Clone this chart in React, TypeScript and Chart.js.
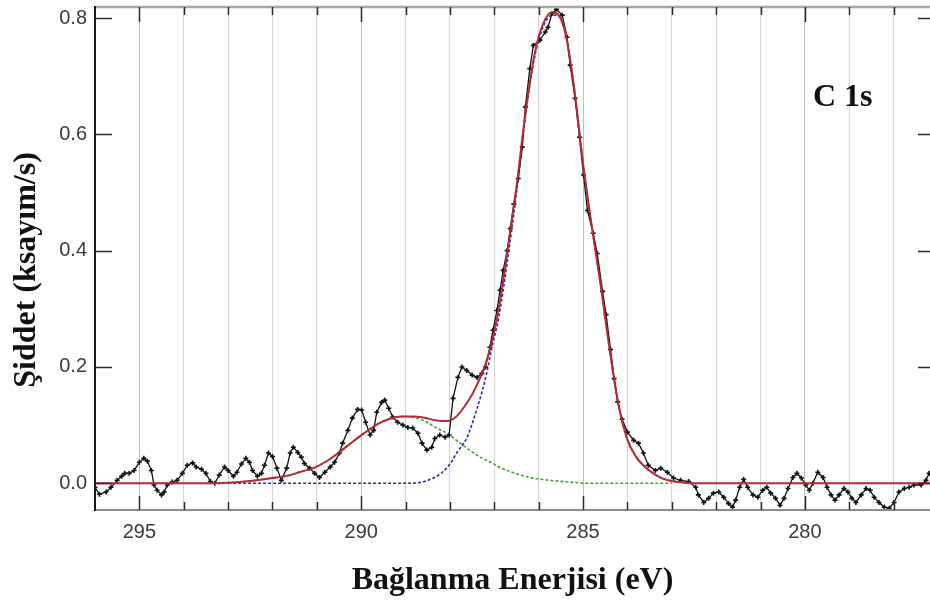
import React, { useEffect, useRef } from "react";
import { Chart, registerables } from "chart.js";

Chart.register(...registerables);

// ---- measured spectrum (binding energy eV, intensity ksayım/s) ----
const dataEnergy = [
  296.0, 295.9, 295.75, 295.64, 295.5, 295.4, 295.33, 295.23, 295.12, 295.0,
  294.9, 294.82, 294.73, 294.67, 294.6, 294.5, 294.44, 294.37, 294.26, 294.15,
  294.03, 293.92, 293.8, 293.72, 293.6, 293.5, 293.4, 293.3, 293.2, 293.08,
  293.0, 292.88, 292.8, 292.7, 292.6, 292.52, 292.45, 292.34, 292.25, 292.18,
  292.09, 292.0, 291.9, 291.8, 291.68, 291.6, 291.53, 291.43, 291.35, 291.28,
  291.16, 291.05, 290.94, 290.82, 290.7, 290.6, 290.49, 290.42, 290.3, 290.2,
  290.08, 289.99, 289.9, 289.8, 289.72, 289.65, 289.54, 289.47, 289.38, 289.29,
  289.18, 289.06, 288.95, 288.84, 288.72, 288.63, 288.52, 288.41, 288.34, 288.23,
  288.11, 288.02, 287.93, 287.82, 287.73, 287.62, 287.5, 287.39, 287.28, 287.2,
  287.1, 287.03, 286.94, 286.87, 286.8, 286.71, 286.64, 286.56, 286.46, 286.37,
  286.3, 286.2, 286.12, 285.97, 285.85, 285.79, 285.7, 285.6, 285.47, 285.36,
  285.29, 285.18, 285.08, 284.99, 284.9, 284.77, 284.68, 284.56, 284.48, 284.38,
  284.3, 284.22, 284.12, 284.0, 283.86, 283.75, 283.64, 283.53, 283.37, 283.25,
  283.1, 282.96, 282.8, 282.62, 282.46, 282.4, 282.28, 282.17, 282.06, 281.94,
  281.83, 281.72, 281.63, 281.56, 281.47, 281.38, 281.29, 281.17, 281.06, 280.95,
  280.86, 280.77, 280.66, 280.56, 280.47, 280.38, 280.27, 280.18, 280.08, 279.98,
  279.9, 279.82, 279.71, 279.59, 279.5, 279.41, 279.32, 279.23, 279.12, 279.03,
  278.94, 278.85, 278.73, 278.62, 278.53, 278.44, 278.33, 278.21, 278.1, 277.99,
  277.88, 277.76, 277.65, 277.54, 277.38, 277.27, 277.2,
];
const dataIntensity = [
  -0.007, -0.019, -0.015, -0.007, 0.005, 0.012, 0.017, 0.017, 0.022, 0.036,
  0.043, 0.038, 0.022, -0.003, -0.012, -0.02, -0.015, -0.003, 0.002, 0.005,
  0.017, 0.031, 0.035, 0.028, 0.024, 0.017, 0.003, 0.0, 0.014, 0.028,
  0.022, 0.012, 0.019, 0.033, 0.043, 0.036, 0.022, 0.012, 0.017, 0.031,
  0.052, 0.046, 0.026, 0.005, 0.026, 0.052, 0.062, 0.053, 0.045, 0.034,
  0.026, 0.017, 0.01, 0.019, 0.028, 0.036, 0.052, 0.069, 0.091, 0.112,
  0.127, 0.126, 0.105, 0.083, 0.091, 0.122, 0.139, 0.143, 0.129, 0.114,
  0.105, 0.1, 0.096, 0.095, 0.086, 0.069, 0.057, 0.062, 0.077, 0.083,
  0.079, 0.083, 0.146, 0.182, 0.2, 0.194, 0.186, 0.182, 0.189, 0.2,
  0.234, 0.263, 0.297, 0.332, 0.366, 0.4, 0.438, 0.48, 0.524, 0.578,
  0.647, 0.713, 0.753, 0.762, 0.776, 0.784, 0.808, 0.815, 0.805, 0.767,
  0.719, 0.662, 0.595, 0.53, 0.469, 0.43, 0.395, 0.33, 0.29, 0.23,
  0.18, 0.14, 0.11, 0.088, 0.074, 0.069, 0.052, 0.031, 0.022, 0.026,
  0.019, 0.009, 0.005, 0.003, -0.007, -0.02, -0.033, -0.026, -0.017, -0.015,
  -0.024, -0.035, -0.041, -0.029, -0.007, 0.007, -0.007, -0.02, -0.024, -0.012,
  -0.007, -0.017, -0.026, -0.038, -0.026, -0.009, 0.01, 0.017, 0.009, -0.003,
  -0.012, 0.0, 0.019, 0.01, -0.007, -0.02, -0.029, -0.02, -0.009, -0.015,
  -0.026, -0.033, -0.02, -0.009, -0.012, -0.024, -0.033, -0.041, -0.043, -0.033,
  -0.015, -0.009, -0.007, -0.003, -0.003, 0.005, 0.017,
];

// ---- fitted envelope (red) ----
const sumEnergy = [
  296.0, 293.5, 293.0, 292.5, 292.0, 291.6, 291.4, 291.05, 290.8, 290.5,
  290.2, 289.9, 289.6, 289.35, 289.1, 288.8, 288.6, 288.3, 288.1, 288.0,
  287.85, 287.7, 287.55, 287.43, 287.25, 287.1, 286.9, 286.7, 286.5, 286.3,
  286.1, 285.9, 285.7, 285.55, 285.4, 285.2, 285.0, 284.8, 284.6, 284.4,
  284.2, 284.0, 283.8, 283.6, 283.4, 283.2, 283.0, 282.7, 282.4, 277.18,
];
const sumIntensity = [
  0.0, 0.0, 0.001, 0.004, 0.009, 0.014, 0.019, 0.027, 0.037, 0.053,
  0.071, 0.088, 0.103, 0.111, 0.115, 0.115, 0.113, 0.108, 0.107, 0.108,
  0.115, 0.129, 0.146, 0.163, 0.194, 0.229, 0.3, 0.4, 0.51, 0.635,
  0.735, 0.79, 0.81, 0.805, 0.775, 0.68, 0.55, 0.44, 0.34, 0.23,
  0.135, 0.075, 0.045, 0.028, 0.016, 0.008, 0.004, 0.001, 0.0, 0.0,
];

// ---- main C 1s component (blue dashed) ----
const mainEnergy = [
  293.0, 289.0, 288.7, 288.4, 288.2, 288.0, 287.85, 287.62, 287.4, 287.2,
  287.05, 286.9, 286.7, 286.5, 286.3, 286.1, 285.9, 285.7, 285.55, 285.4,
  285.2, 285.0, 284.8, 284.6, 284.4, 284.2, 284.0, 283.8, 283.6, 283.4,
  283.2, 283.0, 282.7, 282.5,
];
const mainIntensity = [
  0.0, 0.0, 0.001, 0.008, 0.017, 0.033, 0.052, 0.078, 0.126, 0.18,
  0.235, 0.285, 0.385, 0.5, 0.63, 0.73, 0.785, 0.805, 0.803, 0.773,
  0.678, 0.55, 0.44, 0.34, 0.23, 0.135, 0.075, 0.045, 0.028, 0.016,
  0.008, 0.004, 0.001, 0.0,
];

// ---- second component (green dashed) ----
const secEnergy = [
  293.0, 292.5, 292.0, 291.6, 291.4, 291.05, 290.8, 290.5, 290.2, 289.9,
  289.6, 289.35, 289.1, 288.8, 288.6, 288.3, 288.07, 287.7, 287.32, 287.1,
  286.87, 286.64, 286.2, 285.74, 285.3, 284.9, 283.0,
];
const secIntensity = [
  0.0, 0.004, 0.009, 0.014, 0.019, 0.027, 0.037, 0.053, 0.071, 0.088,
  0.103, 0.111, 0.115, 0.113, 0.108, 0.095, 0.086, 0.065, 0.045, 0.037,
  0.027, 0.02, 0.01, 0.005, 0.002, 0.0, 0.0,
];

// ---- axes ----
const xMin = 277.18;
const xMax = 296.0;
const yMin = -0.046;
const yMax = 0.819;
const xTickValues = [278, 279, 280, 281, 282, 283, 284, 285, 286, 287, 288, 289, 290, 291, 292, 293, 294, 295];
const xLabelValues = [280, 285, 290, 295];
const yTickValues = [0.0, 0.2, 0.4, 0.6, 0.8];

const xTitle = "Bağlanma Enerjisi (eV)";
const yTitle = "Şiddet (ksayım/s)";
const peakLabel = "C 1s";

const toPts = (xs: number[], ys: number[]) => xs.map((x, i) => ({ x, y: ys[i] }));

const framePlugin = {
  id: "frame",
  afterDraw(chart: any) {
    const { ctx, chartArea, scales } = chart;
    const { left, right, top, bottom } = chartArea;
    const x = scales.x;
    const y = scales.y;
    const line = (x1: number, y1: number, x2: number, y2: number) => {
      ctx.beginPath();
      ctx.moveTo(x1, y1);
      ctx.lineTo(x2, y2);
      ctx.stroke();
    };
    ctx.save();
    ctx.lineCap = "butt";
    ctx.strokeStyle = "#a8a8a8";
    ctx.lineWidth = 2.5;
    line(left, top, right, top);
    ctx.strokeStyle = "#8c8c8c";
    ctx.lineWidth = 2;
    line(left, bottom, right, bottom);
    ctx.strokeStyle = "#1a1a1a";
    ctx.lineWidth = 2;
    line(left, top - 1, left, bottom + 1);

    ctx.strokeStyle = "#2a2a2a";
    ctx.lineWidth = 1.5;
    for (const v of xTickValues) {
      const px = Math.round(x.getPixelForValue(v)) + 0.5;
      const major = v % 5 === 0;
      line(px, bottom, px, bottom - (major ? 14 : 8));
      line(px, top, px, top + (major ? 15 : 8));
    }
    for (const v of yTickValues) {
      const py = Math.round(y.getPixelForValue(v)) + 0.5;
      line(left, py, left + 17, py);
      line(right - 12, py, right, py);
    }

    ctx.fillStyle = "#111";
    ctx.font = 'bold 32px "Liberation Serif", "Times New Roman", serif';
    ctx.textAlign = "left";
    ctx.textBaseline = "alphabetic";
    ctx.fillText(peakLabel, 813, 106);

    ctx.translate(27, 270);
    ctx.rotate(-Math.PI / 2);
    ctx.textAlign = "center";
    ctx.textBaseline = "middle";
    ctx.font = 'bold 32px "Liberation Serif", "Times New Roman", serif';
    ctx.fillText(yTitle, 0, 0);
    ctx.restore();
  },
};

export default function App() {
  const canvasRef = useRef<HTMLCanvasElement | null>(null);

  useEffect(() => {
    const canvas = canvasRef.current;
    if (!canvas) return;
    const chart = new Chart(canvas, {
      type: "line",
      data: {
        datasets: [
          {
            label: "Toplam",
            data: toPts(sumEnergy, sumIntensity),
            borderColor: "#b52a33",
            borderWidth: 2,
            pointRadius: 0,
            cubicInterpolationMode: "monotone",
            fill: false,
            order: 0,
          },
          {
            label: "Veri",
            data: toPts(dataEnergy, dataIntensity),
            borderColor: "#111",
            borderWidth: 1.3,
            pointRadius: 2.5,
            pointStyle: "cross",
            pointBorderColor: "#111",
            pointBorderWidth: 1.6,
            tension: 0,
            fill: false,
            order: 1,
          },
          {
            label: "Bileşen 2",
            data: toPts(secEnergy, secIntensity),
            borderColor: "#3aa53a",
            borderWidth: 1.6,
            borderDash: [3, 2],
            pointRadius: 0,
            cubicInterpolationMode: "monotone",
            fill: false,
            order: 2,
          },
          {
            label: "Bileşen 1",
            data: toPts(mainEnergy, mainIntensity),
            borderColor: "#2b2ba5",
            borderWidth: 1.6,
            borderDash: [3, 2],
            pointRadius: 0,
            cubicInterpolationMode: "monotone",
            fill: false,
            order: 3,
          },
        ],
      },
      options: {
        animation: false,
        responsive: false,
        devicePixelRatio: 1,
        layout: { autoPadding: false, padding: { top: 7, right: 0, left: 0, bottom: 0 } },
        plugins: {
          legend: { display: false },
          tooltip: { enabled: false },
        },
        scales: {
          x: {
            type: "linear",
            reverse: true,
            min: xMin,
            max: xMax,
            afterBuildTicks: (scale: any) => {
              scale.ticks = xTickValues.map((v) => ({ value: v }));
            },
            afterFit: (scale: any) => {
              scale.height = 94;
              scale.paddingLeft = 0;
              scale.paddingRight = 0;
              scale.paddingTop = 0;
              scale.paddingBottom = 0;
            },
            border: { display: false },
            grid: {
              drawTicks: false,
              color: (c: any) => (c.tick && c.tick.value % 5 === 0 ? "#bdbdbd" : "#d6d6d6"),
              lineWidth: 1,
            },
            ticks: {
              autoSkip: false,
              maxRotation: 0,
              padding: 10,
              color: "#3a3a3a",
              font: { family: '"Liberation Sans", Arial, sans-serif', size: 20 },
              callback: (v: any) => (xLabelValues.includes(Number(v)) ? String(v) : ""),
            },
            title: {
              display: true,
              text: xTitle,
              color: "#111",
              font: { family: '"Liberation Serif", "Times New Roman", serif', size: 32, weight: "bold" },
              padding: { top: 0, bottom: 4 },
            },
          },
          y: {
            type: "linear",
            min: yMin,
            max: yMax,
            afterBuildTicks: (scale: any) => {
              scale.ticks = yTickValues.map((v) => ({ value: v }));
            },
            afterFit: (scale: any) => {
              scale.width = 95;
              scale.paddingLeft = 0;
              scale.paddingRight = 0;
              scale.paddingTop = 0;
              scale.paddingBottom = 0;
            },
            border: { display: false },
            grid: { display: false, drawTicks: false },
            ticks: {
              padding: 8,
              color: "#3a3a3a",
              font: { family: '"Liberation Sans", Arial, sans-serif', size: 20 },
              callback: (v: any) => Number(v).toFixed(1),
            },
          },
        },
      },
      plugins: [framePlugin],
    } as any);
    return () => chart.destroy();
  }, []);

  return (
    <div style={{ position: "fixed", left: 0, top: 0, width: 930, height: 604, background: "#fff" }}>
      <canvas ref={canvasRef} width={930} height={604} style={{ display: "block", width: 930, height: 604 }} />
    </div>
  );
}
